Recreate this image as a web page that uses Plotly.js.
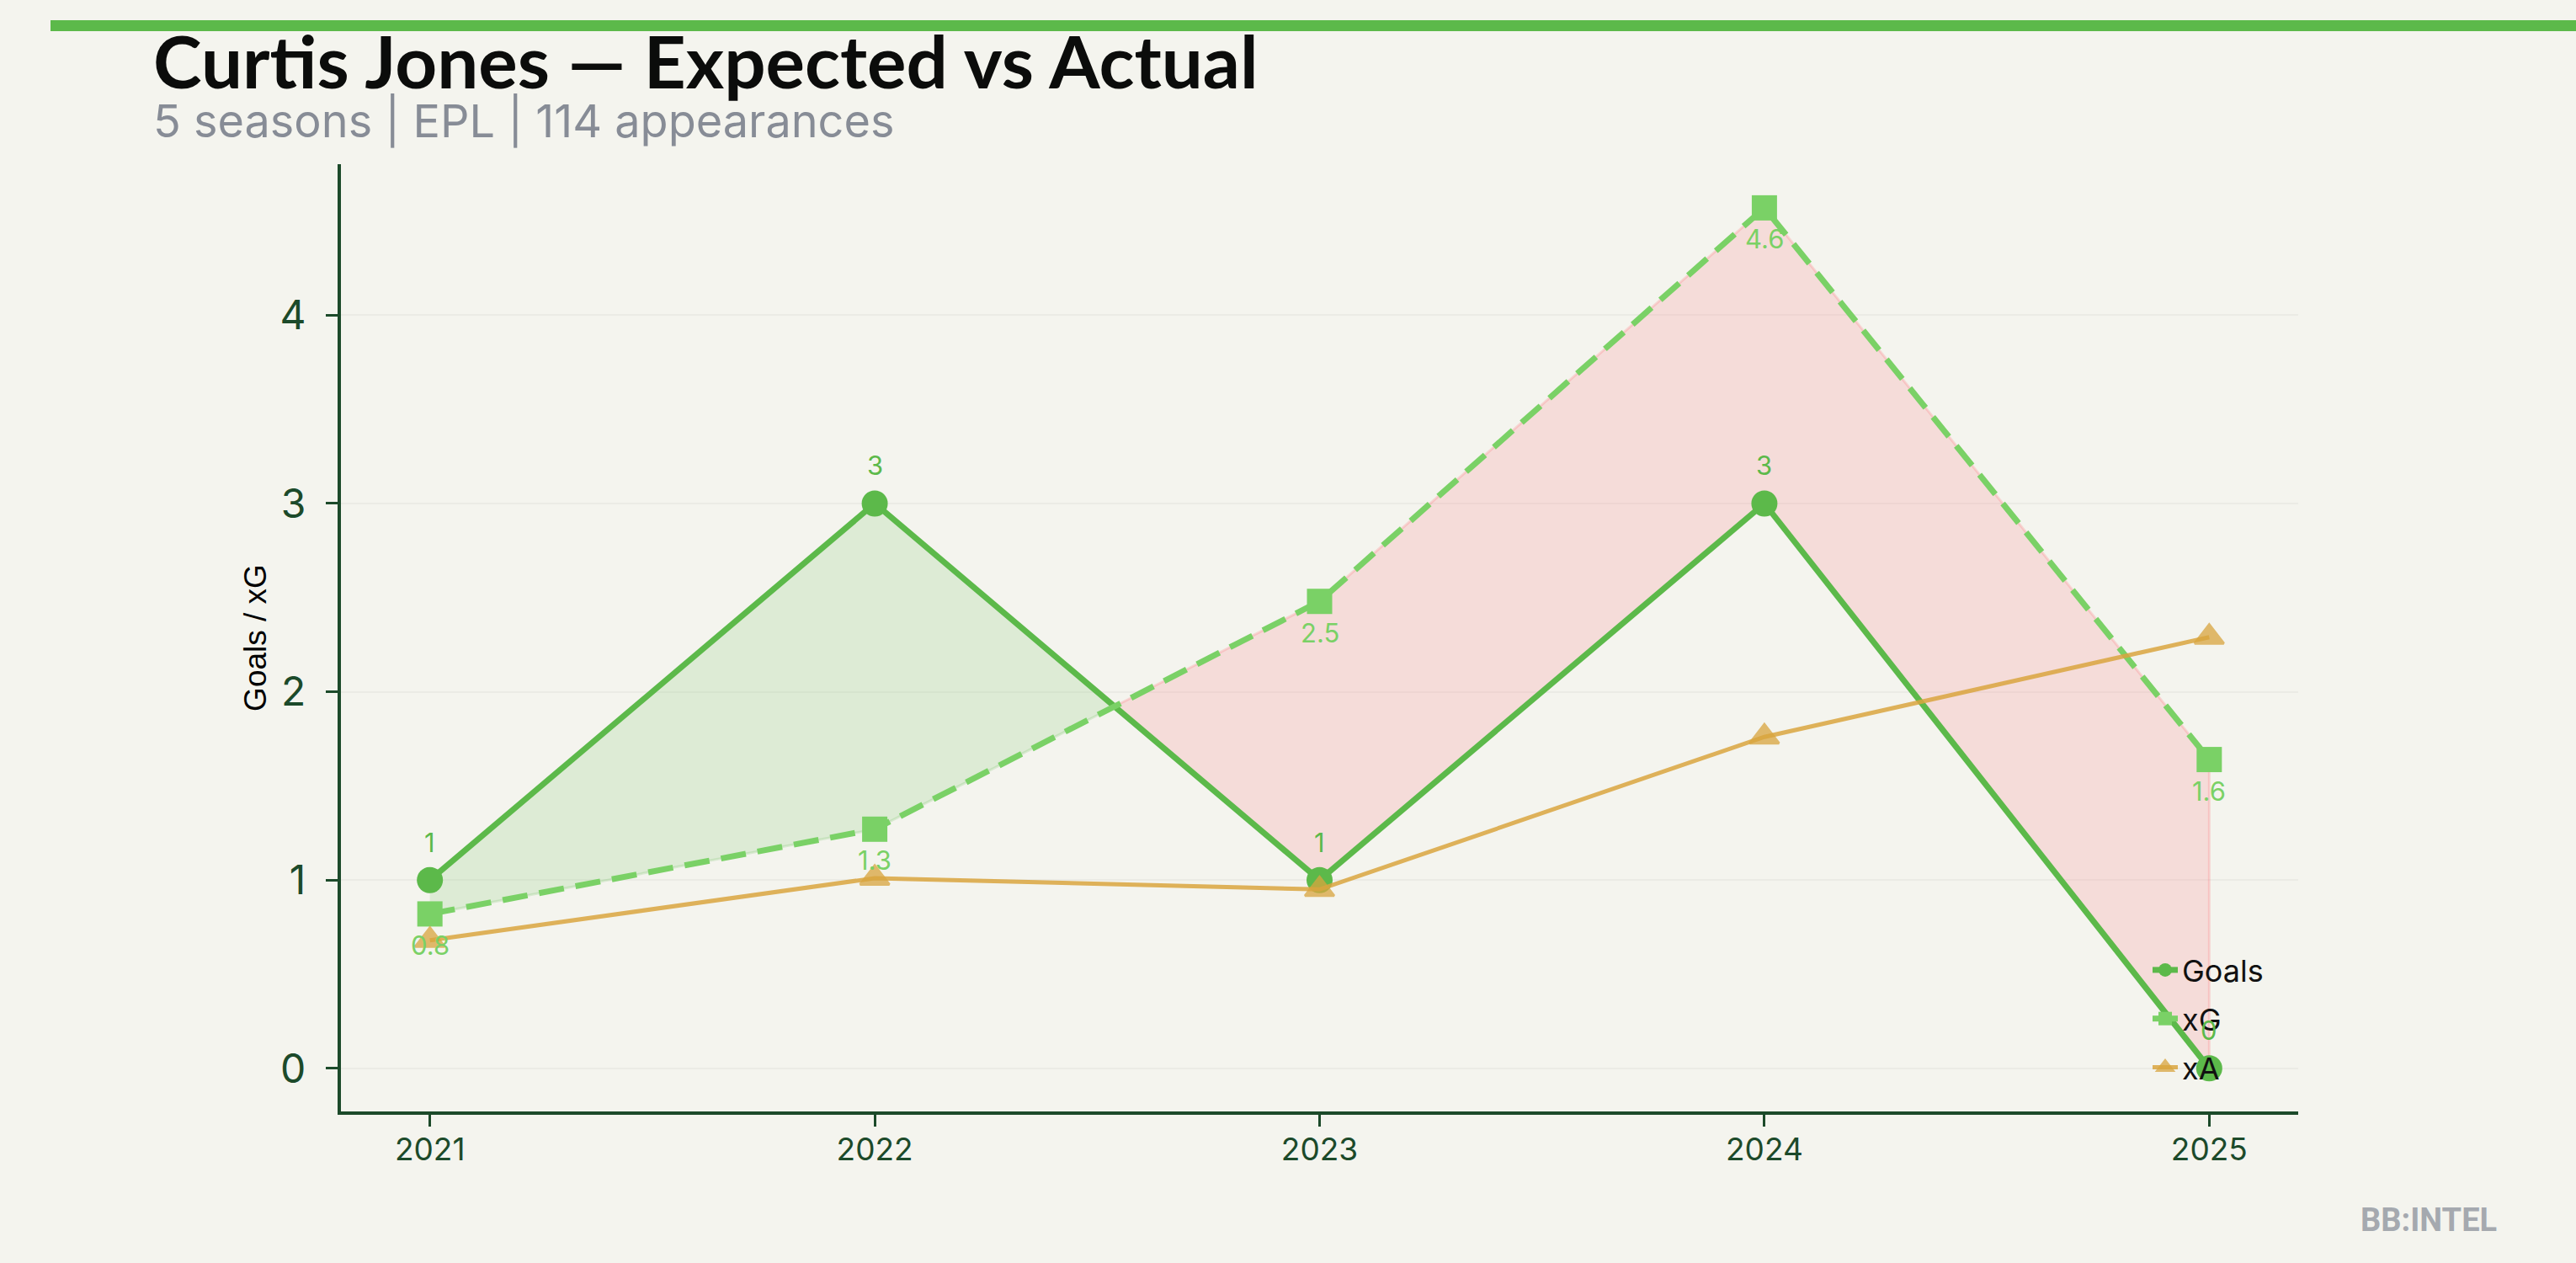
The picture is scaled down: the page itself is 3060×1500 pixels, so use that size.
<!DOCTYPE html>
<html><head><meta charset="utf-8">
<script src="https://cdn.plot.ly/plotly-3.0.1.min.js"></script>
<style>html,body{margin:0;padding:0;background:#f4f4ee;} #chart{width:3060px;height:1500px;}</style>
</head><body><div id="chart"></div>
<script>
const seasons = [2021, 2022, 2023, 2024, 2025];
const seasonLabels = ['2021', '2022', '2023', '2024', '2025'];
const goals = [1, 3, 1, 3, 0];
const xG = [0.82, 1.27, 2.48, 4.57, 1.64];
const xA = [0.68, 1.01, 0.95, 1.76, 2.29];
const goalLabels = ['1', '3', '1', '3', '0'];
const xgLabels = ['0.8', '1.3', '2.5', '4.6', '1.6'];

const C_GOALS = '#5cb94a', C_XG = '#7ad166', C_XA = '#d9a53e';
const AXIS = '#1c4a2a';

// Build fill regions between Goals and xG (green = over-performing, red = under)
const pts = [];
for (let i = 0; i < seasons.length; i++) {
  pts.push({x: seasons[i], g: goals[i], e: xG[i]});
  if (i < seasons.length - 1) {
    const d0 = goals[i] - xG[i], d1 = goals[i + 1] - xG[i + 1];
    if (d0 * d1 < 0) {
      const t = d0 / (d0 - d1);
      const x = seasons[i] + t * (seasons[i + 1] - seasons[i]);
      const y = goals[i] + t * (goals[i + 1] - goals[i]);
      pts.push({x: x, g: y, e: y, cross: true});
    }
  }
}
const runs = []; let cur = []; let sign = null;
for (const p of pts) {
  if (p.cross) { cur.push(p); runs.push({sign: sign, pts: cur}); cur = [p]; sign = null; continue; }
  if (sign === null) sign = (p.g - p.e) >= 0 ? 1 : -1;
  cur.push(p);
}
runs.push({sign: sign, pts: cur});

const traces = [];
runs.forEach(r => {
  const xs = r.pts.map(p => p.x), gs = r.pts.map(p => p.g), es = r.pts.map(p => p.e);
  traces.push({
    x: xs.concat(xs.slice().reverse()),
    y: gs.concat(es.slice().reverse()),
    type: 'scatter', mode: 'lines', fill: 'toself',
    fillcolor: r.sign > 0 ? 'rgba(91,185,74,0.15)' : 'rgba(255,90,100,0.15)',
    line: {color: r.sign > 0 ? 'rgba(91,185,74,0.18)' : 'rgba(255,90,100,0.2)', width: 3},
    hoverinfo: 'skip', showlegend: false
  });
});

traces.push({
  x: seasons, y: goals, name: 'Goals', type: 'scatter', mode: 'lines+markers',
  line: {color: C_GOALS, width: 7},
  marker: {color: C_GOALS, size: 31, symbol: 'circle'},
  legendgroup: 'g'
});
traces.push({
  x: seasons, y: xG, name: 'xG', type: 'scatter', mode: 'lines+markers',
  line: {color: C_XG, width: 7, dash: '30px,14px'},
  marker: {color: C_XG, size: 30, symbol: 'square'},
  legendgroup: 'e'
});
traces.push({
  x: seasons, y: xA, name: 'xA', type: 'scatter', mode: 'lines+markers',
  line: {color: 'rgba(217,165,62,0.85)', width: 5},
  marker: {color: C_XA, size: 30, symbol: 'triangle-up', opacity: 0.75, line: {color: C_XA, width: 3}},
  legendgroup: 'a'
});

const annotations = [];
goals.forEach((v, i) => annotations.push({
  x: seasons[i], y: v, xref: 'x', yref: 'y', text: goalLabels[i], showarrow: false,
  yshift: 45, font: {family: 'Inter', size: 31, color: C_GOALS}
}));
xG.forEach((v, i) => annotations.push({
  x: seasons[i], y: v, xref: 'x', yref: 'y', text: xgLabels[i], showarrow: false,
  yshift: -37, font: {family: 'Inter', size: 31, color: C_XG}
}));

const L = 405, R = 2730, T = 195, B = 1320;
const px2x = p => (p - L) / (R - L);
const px2y = p => (B - p) / (B - T);

annotations.push({
  xref: 'paper', yref: 'paper', x: px2x(180), y: px2y(71), xanchor: 'left', yanchor: 'middle',
  text: '<b>Curtis Jones — Expected vs Actual</b>', showarrow: false,
  font: {family: 'Lato', size: 87, color: '#0b0c0b'}
});
annotations.push({
  xref: 'paper', yref: 'paper', x: px2x(180), y: px2y(143), xanchor: 'left', yanchor: 'middle',
  text: '5 seasons | EPL | 114 appearances', showarrow: false,
  font: {family: 'Inter', size: 54, color: '#878c96'}
});
annotations.push({
  xref: 'paper', yref: 'paper', x: px2x(2968), y: px2y(1449), xanchor: 'right', yanchor: 'middle',
  text: '<b>BB:INTEL</b>', showarrow: false,
  font: {family: 'Roboto', size: 38, color: '#a5a9af'}
});

const layout = {
  width: 3060, height: 1500,
  paper_bgcolor: '#f4f4ee', plot_bgcolor: '#f4f4ee',
  margin: {l: L, r: 3060 - R, t: T, b: 1500 - B, pad: 0},
  showlegend: true,
  legend: {
    x: px2x(2552), y: px2y(1210), xanchor: 'left', yanchor: 'middle',
    bgcolor: 'rgba(0,0,0,0)', font: {family: 'Inter', size: 36, color: '#111111'},
    traceorder: 'grouped', tracegroupgap: 8
  },
  xaxis: {
    range: [2020.8, 2025.2], tickvals: seasons, ticktext: seasonLabels,
    showgrid: false, zeroline: false, showline: true, linecolor: AXIS, linewidth: 4,
    ticks: 'outside', ticklen: 14, tickwidth: 3, tickcolor: AXIS,
    tickfont: {family: 'Inter', size: 37, color: AXIS}, ticklabelstandoff: -4
  },
  yaxis: {
    range: [-0.229, 4.802], tickvals: [0, 1, 2, 3, 4],
    showgrid: true, gridcolor: 'rgba(0,0,0,0.035)', gridwidth: 2,
    zeroline: false, showline: true, linecolor: AXIS, linewidth: 4,
    ticks: 'outside', ticklen: 14, tickwidth: 3, tickcolor: AXIS,
    tickfont: {family: 'Inter', size: 48, color: AXIS}, ticklabelstandoff: 14,
    title: {text: 'Goals / xG', font: {family: 'Liberation Sans', size: 37, color: '#000000'}, standoff: 5}
  },
  annotations: annotations,
  shapes: [{
    type: 'rect', xref: 'paper', yref: 'paper',
    x0: px2x(60), x1: px2x(3060), y0: px2y(37), y1: px2y(24),
    fillcolor: '#5cb94a', line: {width: 0}
  }]
};

Plotly.newPlot('chart', traces, layout, {displayModeBar: false, staticPlot: true});
</script>
</body></html>
